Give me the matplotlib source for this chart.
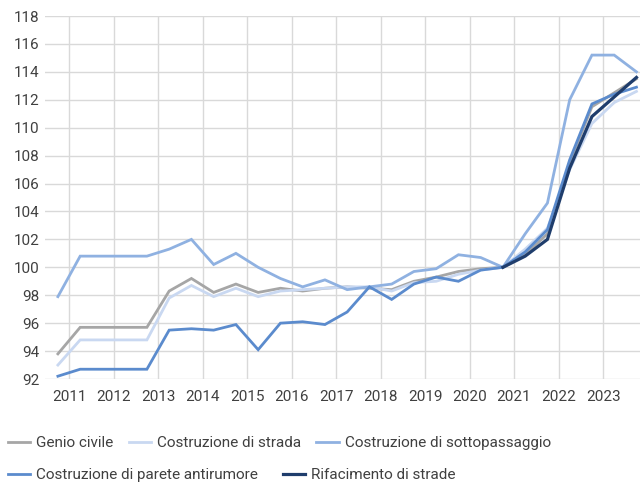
import numpy as np
import matplotlib
matplotlib.use('Agg')
import matplotlib.pyplot as plt

plt.rcParams['font.family'] = ['Roboto', 'DejaVu Sans']

# semi-annual index (April / October), October 2010 .. October 2023
dates = np.arange(2010.75, 2023.76, 0.5)

genio_civile = [93.8, 95.7, 95.7, 95.7, 95.7, 98.3, 99.2, 98.2, 98.8, 98.2,
                98.5, 98.3, 98.5, 98.6, 98.5, 98.4, 99.0, 99.3, 99.7, 99.9,
                100.0, 100.9, 102.4, 107.5, 111.5, 112.5, 113.5]
strada = [93.0, 94.8, 94.8, 94.8, 94.8, 97.8, 98.7, 97.9, 98.5, 97.9,
          98.3, 98.4, 98.5, 98.6, 98.6, 98.3, 98.9, 99.0, 99.5, 99.8,
          100.0, 101.3, 102.8, 107.0, 110.3, 111.8, 112.6]
sottopassaggio = [97.9, 100.8, 100.8, 100.8, 100.8, 101.3, 102.0, 100.2, 101.0, 100.0,
                  99.2, 98.6, 99.1, 98.4, 98.6, 98.8, 99.7, 99.9, 100.9, 100.7,
                  100.0, 102.4, 104.6, 112.0, 115.2, 115.2, 114.0]
parete = [92.2, 92.7, 92.7, 92.7, 92.7, 95.5, 95.6, 95.5, 95.9, 94.1,
          96.0, 96.1, 95.9, 96.8, 98.6, 97.7, 98.8, 99.3, 99.0, 99.8,
          100.0, 101.1, 102.7, 107.7, 111.7, 112.4, 112.9]
rifacimento = [np.nan] * 20 + [100.0, 100.8, 102.0, 107.1, 110.8, 112.2, 113.6]

series = [
    ('Genio civile', genio_civile, '#a6a6a6', 2.0),
    ('Costruzione di strada', strada, '#c9d8f1', 2.0),
    ('Costruzione di sottopassaggio', sottopassaggio, '#8fb1e1', 2.0),
    ('Costruzione di parete antirumore', parete, '#5b8bcd', 2.0),
    ('Rifacimento di strade', rifacimento, '#1f3d6c', 2.3),
]

fig = plt.figure(figsize=(6.42, 4.86), dpi=100)
ax = fig.add_axes([45 / 642, 107 / 486, 595 / 642, 363 / 486])

handles = []
for name, vals, col, lw in series:
    ln, = ax.plot(dates, vals, color=col, lw=lw, label=name, solid_joinstyle='miter')
    handles.append(ln)

ax.set_xlim(2010.46, 2023.83)
ax.set_ylim(92, 118)
ax.set_yticks(np.arange(92, 119, 2))
ax.set_xticks(np.arange(2011, 2024))
ax.grid(True, color='#d9d9d9', lw=1.0)
ax.set_axisbelow(True)
for s in ax.spines.values():
    s.set_visible(False)
ax.tick_params(axis='both', length=0, labelsize=11, colors='#404040')
ax.tick_params(axis='y', pad=4)
ax.tick_params(axis='x', pad=8)

kw = dict(frameon=False, fontsize=11, handlelength=1.45, handletextpad=0.4,
          borderaxespad=0, borderpad=0, labelcolor='#404040')
leg1 = fig.legend(handles=handles[:3], ncol=3, loc='center left', columnspacing=1.0,
                  bbox_to_anchor=(8 / 642, 1 - 443 / 486), **kw)
leg2 = fig.legend(handles=handles[3:], ncol=2, loc='center left', columnspacing=1.6,
                  bbox_to_anchor=(8 / 642, 1 - 475 / 486), **kw)

plt.savefig('out.png', dpi=100)
